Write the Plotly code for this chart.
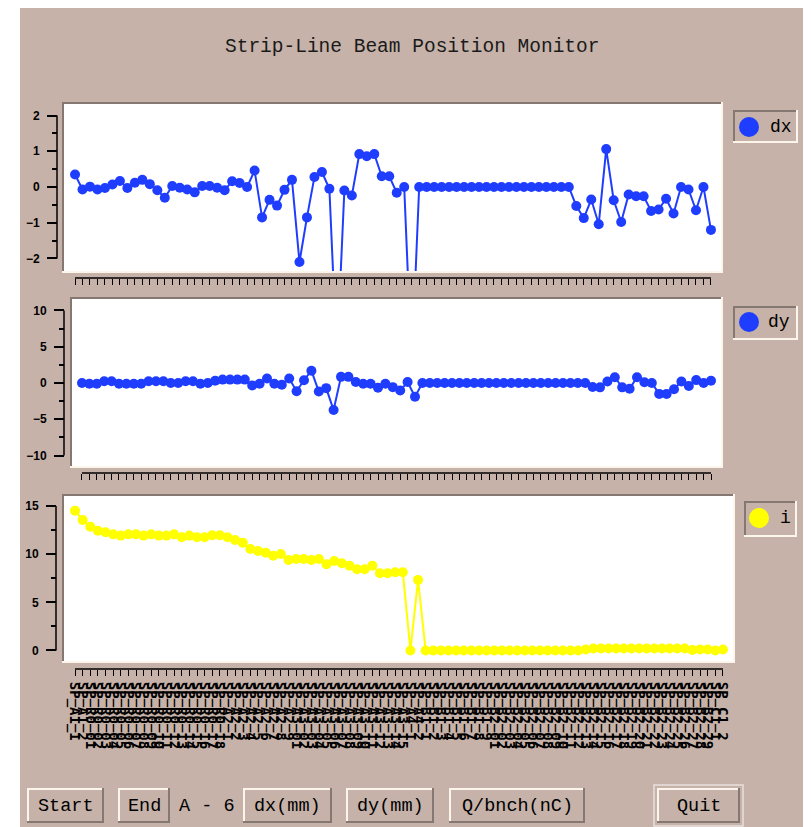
import plotly.graph_objects as go

W, H = 811, 827
OFF = 8  # page body margin: screen position = figure position + 8

# ---------------- data ----------------
bpm_groups = [("A1", 2), ("R0", 18), ("A2", 9), ("A3", 15), ("A4", 2), ("B1", 9), ("B2", 29), ("C1", 2)]
bpm_names = [f"SP_{sec}_{n:02d}" if cnt > 9 else f"SP_{sec}_{n}"
             for sec, cnt in bpm_groups for n in range(1, cnt + 1)]

dx_mm = [0.35, -0.07, 0.01, -0.07, -0.03, 0.07, 0.17, -0.03, 0.12, 0.20,
         0.08, -0.09, -0.30, 0.03, -0.02, -0.07, -0.15, 0.03, 0.03, -0.02,
         -0.09, 0.16, 0.11, 0.00, 0.46, -0.85, -0.36, -0.52, -0.08, 0.20,
         -2.10, -0.85, 0.28, 0.42, -0.05, -4.80, -0.10, -0.24, 0.92, 0.86,
         0.92, 0.30, 0.30, -0.16, 0.00, -5.00, 0.00, 0.00, 0.00, 0.00,
         0.00, 0.00, 0.00, 0.00, 0.00, 0.00, 0.00, 0.00, 0.00, 0.00,
         0.00, 0.00, 0.00, 0.00, 0.00, 0.00, 0.00, -0.53, -0.87, -0.35,
         -1.04, 1.06, -0.37, -0.98, -0.21, -0.26, -0.26, -0.67, -0.63, -0.33,
         -0.74, 0.00, -0.07, -0.65, 0.00, -1.20]

dy_mm = [0.00, -0.10, -0.10, 0.24, 0.24, -0.10, -0.10, -0.10, -0.10, 0.24,
         0.24, 0.24, 0.00, 0.00, 0.24, 0.24, -0.10, 0.00, 0.30, 0.47,
         0.47, 0.47, 0.47, -0.33, -0.10, 0.61, -0.10, -0.24, 0.61, -1.13,
         0.38, 1.70, -1.18, -0.71, -3.73, 0.85, 0.85, 0.14, -0.10, -0.10,
         -0.66, -0.10, -0.57, -1.04, 0.14, -1.89, 0.00, 0.00, 0.00, 0.00,
         0.00, 0.00, 0.00, 0.00, 0.00, 0.00, 0.00, 0.00, 0.00, 0.00,
         0.00, 0.00, 0.00, 0.00, 0.00, 0.00, 0.00, 0.00, 0.00, -0.55,
         -0.60, 0.20, 0.80, -0.60, -0.80, 0.80, 0.10, 0.00, -1.50, -1.50,
         -0.85, 0.20, -0.40, 0.40, 0.00, 0.30]

q_nC = [14.52, 13.55, 12.86, 12.44, 12.27, 12.06, 11.93, 12.06, 12.06, 11.93,
        12.06, 11.93, 11.93, 12.06, 11.75, 11.93, 11.75, 11.75, 11.96, 11.96,
        11.75, 11.48, 11.20, 10.54, 10.33, 10.16, 9.85, 10.02, 9.40, 9.50,
        9.50, 9.40, 9.50, 8.95, 9.30, 9.06, 8.81, 8.43, 8.43, 8.81,
        8.02, 8.02, 8.12, 8.12, 0.00, 7.33, 0.00, 0.00, 0.00, 0.00,
        0.00, 0.00, 0.00, 0.00, 0.00, 0.00, 0.00, 0.00, 0.00, 0.00,
        0.00, 0.00, 0.00, 0.00, 0.00, 0.00, 0.00, 0.10, 0.20, 0.20,
        0.20, 0.20, 0.20, 0.20, 0.20, 0.20, 0.20, 0.20, 0.20, 0.20,
        0.20, 0.05, 0.10, 0.10, 0.00, 0.10]

series_names = ["dx", "dy", "i"]
title_text = "Strip-Line Beam Position Monitor"
button_labels = ["Start", "End", "dx(mm)", "dy(mm)", "Q/bnch(nC)", "Quit"]
sector_label = "A - 6"

# ---------------- style ----------------
BG = "#c6b2a8"
DARK = "#857872"
LIGHT = "#fcf5ec"
BLUE = "#1f3dff"
YELLOW = "#ffff00"
MONO = "Liberation Mono"
SANS = "Liberation Sans"


def fx(px):
    return (px - OFF) / W


def fy(py):
    return 1 - (py - OFF) / H


shapes = []
annotations = []

# white outer margins of the window capture (left / right strips)
for x0, x1 in [(OFF, 20), (806, W + OFF)]:
    shapes.append(dict(type="rect", xref="paper", yref="paper", x0=fx(x0), x1=fx(x1),
                       y0=0, y1=1, fillcolor="white", line=dict(width=0), layer="below"))


def bevel(x0, x1, y0, y1, top_col, bot_col, w=2):
    h = w / 2
    shapes.append(dict(type="line", xref="paper", yref="paper", x0=fx(x0), x1=fx(x1),
                       y0=fy(y0 + h), y1=fy(y0 + h), line=dict(color=top_col, width=w), layer="above"))
    shapes.append(dict(type="line", xref="paper", yref="paper", x0=fx(x0 + h), x1=fx(x0 + h),
                       y0=fy(y0), y1=fy(y1), line=dict(color=top_col, width=w), layer="above"))
    shapes.append(dict(type="line", xref="paper", yref="paper", x0=fx(x0), x1=fx(x1),
                       y0=fy(y1 - h), y1=fy(y1 - h), line=dict(color=bot_col, width=w), layer="above"))
    shapes.append(dict(type="line", xref="paper", yref="paper", x0=fx(x1 - h), x1=fx(x1 - h),
                       y0=fy(y0), y1=fy(y1), line=dict(color=bot_col, width=w), layer="above"))


fig = go.Figure()
series = [dx_mm, dy_mm, q_nC]
colors = [BLUE, BLUE, YELLOW]
for k, (vals, col, nm) in enumerate(zip(series, colors, series_names)):
    sfx = "" if k == 0 else str(k + 1)
    fig.add_trace(go.Scatter(x=bpm_names, y=vals, xaxis="x" + sfx, yaxis="y" + sfx, name=nm,
                             mode="lines+markers", line=dict(color=col, width=2),
                             marker=dict(color=col, size=10), showlegend=False))

panels = [
    dict(box=(62, 723, 102, 273), yr=[-2.406, 2.378], tv=[-2, -1, 0, 1, 2], mv=[-1.5, -0.5, 0.5, 1.5],
         yline=57, xline=278, lab=False, xr=[-1.74, 86.61]),
    dict(box=(70, 723, 297, 468), yr=[-11.72, 11.86], tv=[-10, -5, 0, 5, 10], mv=[-7.5, -2.5, 2.5, 7.5],
         yline=64, xline=473, lab=False, xr=[-1.62, 86.62]),
    dict(box=(62, 735, 494, 663), yr=[-1.30, 16.25], tv=[0, 5, 10, 15], mv=[2.5, 7.5, 12.5],
         yline=56, xline=669, lab=True, xr=[-1.71, 86.58]),
]

layout_axes = {}
for k, p in enumerate(panels):
    sfx = "" if k == 0 else str(k + 1)
    x0, x1, y0, y1 = p["box"]
    xa = dict(domain=[fx(x0), fx(x1)], anchor="free", position=fy(p["xline"]), type="category",
              range=p["xr"], showgrid=False, zeroline=False, showline=False, ticks="outside",
              tickmode="array", tickvals=bpm_names, ticktext=bpm_names,
              ticklen=6, tickwidth=1, tickcolor="black", showticklabels=p["lab"], automargin=False,
              fixedrange=True)
    if p["lab"]:
        xa.update(tickangle=90, tickfont=dict(family="DejaVu Sans Mono", size=14, color="black", weight="bold"),
                  ticklabelstandoff=3)
    ya = dict(domain=[fy(y1), fy(y0)], anchor="free", position=fx(p["yline"]), range=p["yr"],
              tickmode="array", tickvals=p["tv"], ticks="outside", ticklen=10, tickwidth=1.5,
              tickcolor="black", showgrid=False, zeroline=False, showline=False, automargin=False,
              minor=dict(tickmode="array", tickvals=p["mv"], ticks="outside", ticklen=5, tickwidth=1.5,
                         tickcolor="black", showgrid=False),
              tickfont=dict(family=SANS, size=12, color="black", weight="bold"), ticklabelstandoff=5,
              fixedrange=True)
    layout_axes["xaxis" + sfx] = xa
    layout_axes["yaxis" + sfx] = ya
    bevel(x0, x1, y0, y1, DARK, LIGHT)
    shapes.append(dict(type="line", xref="paper", yref="y" + sfx, x0=fx(p["yline"]), x1=fx(p["yline"]),
                       y0=p["tv"][0], y1=p["tv"][-1], line=dict(color="black", width=1.5)))
    shapes.append(dict(type="line", xref="x" + sfx, yref="paper", x0=bpm_names[0], x1=bpm_names[-1],
                       y0=fy(p["xline"]), y1=fy(p["xline"]), line=dict(color="black", width=1.5)))

legends = [
    dict(box=(733, 798, 110, 143), c=(749, 127), t=(781, 127), col=BLUE, name=series_names[0]),
    dict(box=(733, 798, 306, 340), c=(749, 322), t=(779, 322), col=BLUE, name=series_names[1]),
    dict(box=(744, 797, 501, 537), c=(759, 518), t=(785, 518), col=YELLOW, name=series_names[2]),
]
for lg in legends:
    x0, x1, y0, y1 = lg["box"]
    bevel(x0, x1, y0, y1, DARK, LIGHT)
    cx, cy = lg["c"]
    r = 10
    shapes.append(dict(type="circle", xref="paper", yref="paper", x0=fx(cx - r), x1=fx(cx + r),
                       y0=fy(cy + r), y1=fy(cy - r), fillcolor=lg["col"], line=dict(width=0), layer="above"))
    annotations.append(dict(text=lg["name"], xref="paper", yref="paper", x=fx(lg["t"][0]), y=fy(lg["t"][1]),
                            xanchor="center", yanchor="middle", showarrow=False,
                            font=dict(family=MONO, size=18, color="black")))

annotations.append(dict(text=title_text, xref="paper", yref="paper", x=fx(412), y=fy(47),
                        xanchor="center", yanchor="middle", showarrow=False,
                        font=dict(family=MONO, size=19.5, color="#1a1a1a")))

button_boxes = [(27, 104), (118, 170), (243, 332), (346, 434), (449, 585), (657, 740)]
for lbl, (bx0, bx1) in zip(button_labels, button_boxes):
    by0, by1 = 788, 823
    if lbl == "Quit":
        shapes.append(dict(type="rect", xref="paper", yref="paper", x0=fx(bx0 - 3), x1=fx(bx1 + 3),
                           y0=fy(by1 + 3), y1=fy(by0 - 3), line=dict(color="#e8e0dc", width=1.5)))
    bevel(bx0, bx1, by0, by1, LIGHT, DARK)
    annotations.append(dict(text=lbl, xref="paper", yref="paper", x=fx((bx0 + bx1) / 2), y=fy(806),
                            xanchor="center", yanchor="middle", showarrow=False,
                            font=dict(family=MONO, size=18.5, color="black")))
annotations.append(dict(text=sector_label, xref="paper", yref="paper", x=fx(207), y=fy(806),
                        xanchor="center", yanchor="middle", showarrow=False,
                        font=dict(family=MONO, size=18.5, color="black")))

fig.update_layout(width=W, height=H, margin=dict(l=0, r=0, t=0, b=0), autosize=False,
                  paper_bgcolor=BG, plot_bgcolor="white", showlegend=False,
                  shapes=shapes, annotations=annotations, **layout_axes)

fig.write_html("out.html")
